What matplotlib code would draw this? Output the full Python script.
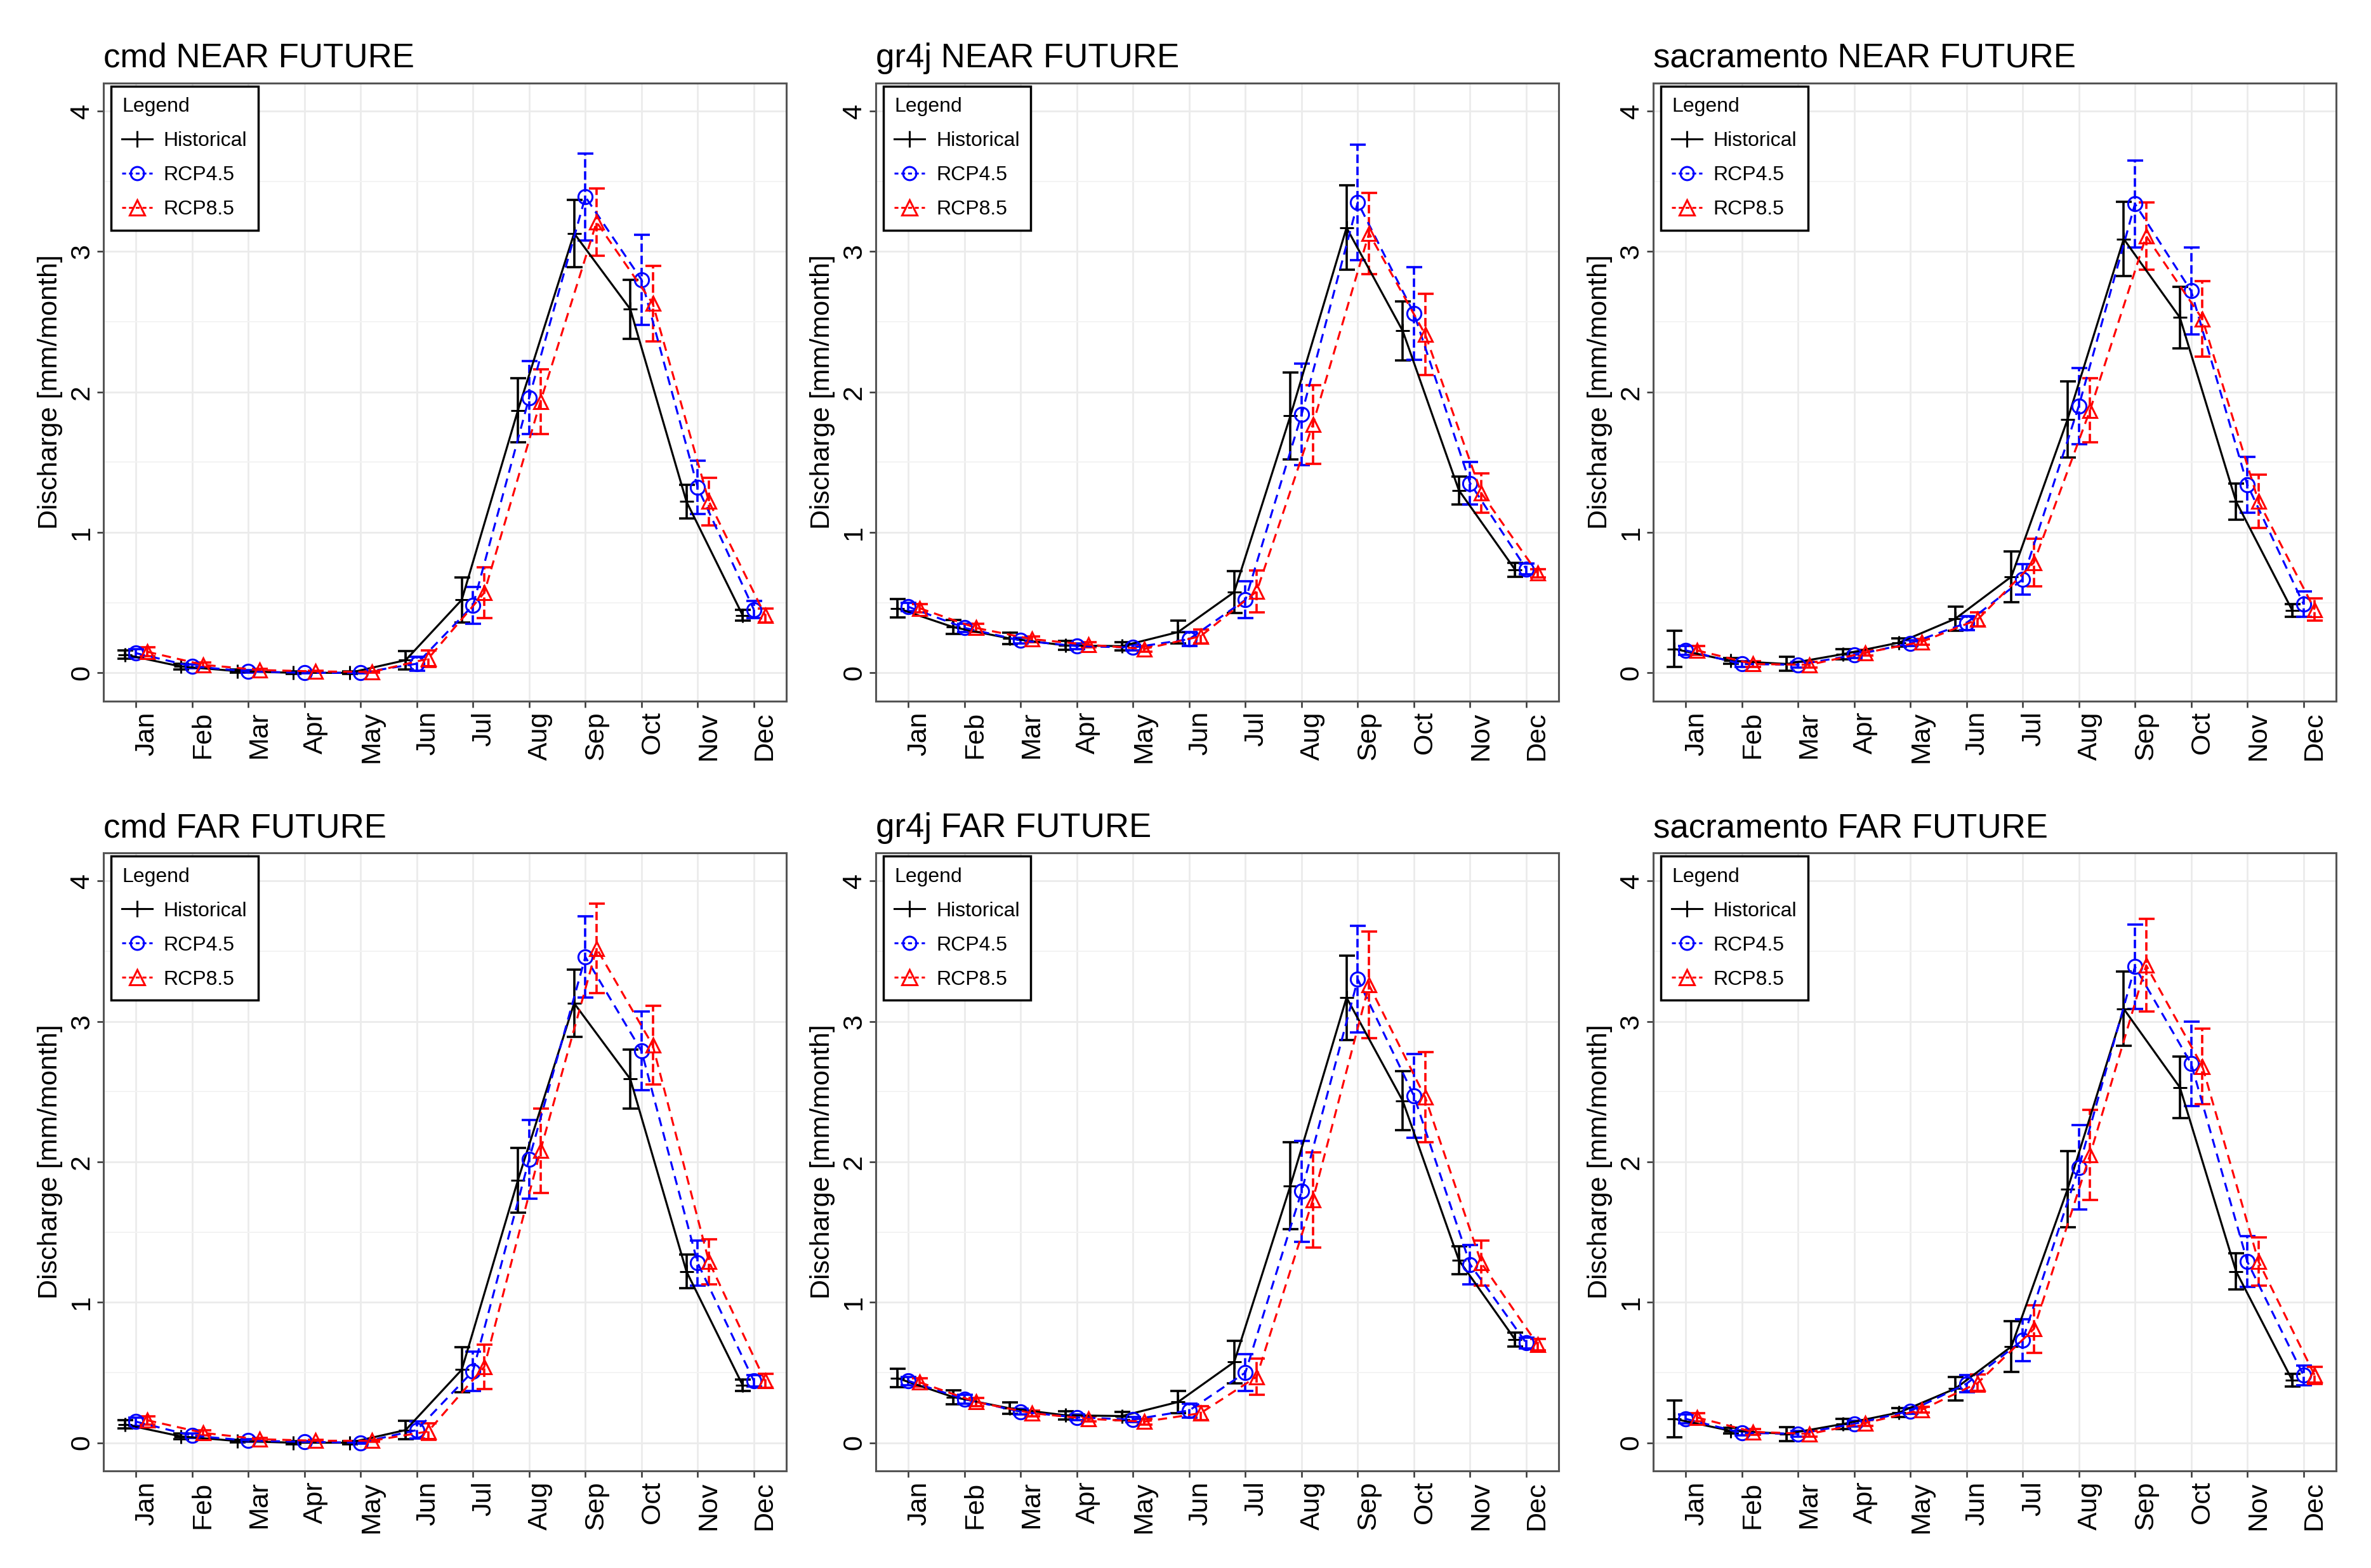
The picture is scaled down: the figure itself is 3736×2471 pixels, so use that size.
import numpy as np
import matplotlib
matplotlib.use("Agg")
import matplotlib.pyplot as plt
import matplotlib.transforms as mtransforms
from matplotlib.lines import Line2D

plt.rcParams["font.family"] = ["Liberation Sans", "DejaVu Sans"]

# 1. Data (monthly discharge, mm/month, mean and half-range of error bar)

months = ["Jan", "Feb", "Mar", "Apr", "May", "Jun",
          "Jul", "Aug", "Sep", "Oct", "Nov", "Dec"]
models = ["cmd", "gr4j", "sacramento"]
periods = ["NEAR FUTURE", "FAR FUTURE"]

cmd_hist = [0.13, 0.045, 0.012, 0.0, 0.0, 0.09, 0.52, 1.87, 3.13, 2.59, 1.22, 0.41]
cmd_hist_err = [0.03, 0.02, 0.01, 0.01, 0.01, 0.065, 0.16, 0.23, 0.24, 0.21, 0.12, 0.04]
cmd_near_45 = [0.14, 0.046, 0.01, 0.0, 0.0, 0.065, 0.48, 1.96, 3.39, 2.80, 1.32, 0.45]
cmd_near_45_err = [0.03, 0.015, 0.01, 0.005, 0.005, 0.05, 0.13, 0.26, 0.31, 0.32, 0.19, 0.06]
cmd_near_85 = [0.15, 0.057, 0.02, 0.01, 0.006, 0.10, 0.57, 1.93, 3.21, 2.63, 1.22, 0.41]
cmd_near_85_err = [0.03, 0.015, 0.01, 0.005, 0.005, 0.06, 0.18, 0.23, 0.24, 0.27, 0.17, 0.05]
cmd_far_45 = [0.15, 0.05, 0.015, 0.006, 0.0, 0.09, 0.51, 2.02, 3.46, 2.79, 1.28, 0.44]
cmd_far_45_err = [0.03, 0.015, 0.01, 0.005, 0.005, 0.06, 0.14, 0.28, 0.29, 0.28, 0.16, 0.04]
cmd_far_85 = [0.16, 0.07, 0.025, 0.014, 0.014, 0.08, 0.54, 2.08, 3.52, 2.83, 1.29, 0.44]
cmd_far_85_err = [0.03, 0.02, 0.01, 0.005, 0.005, 0.06, 0.16, 0.30, 0.32, 0.28, 0.16, 0.05]

gr4j_hist = [0.46, 0.325, 0.245, 0.195, 0.19, 0.29, 0.575, 1.83, 3.17, 2.435, 1.30, 0.735]
gr4j_hist_err = [0.065, 0.05, 0.04, 0.03, 0.03, 0.08, 0.15, 0.31, 0.30, 0.21, 0.10, 0.05]
gr4j_near_45 = [0.47, 0.32, 0.23, 0.19, 0.18, 0.24, 0.52, 1.84, 3.35, 2.56, 1.35, 0.74]
gr4j_near_45_err = [0.03, 0.03, 0.02, 0.02, 0.02, 0.05, 0.13, 0.36, 0.41, 0.33, 0.15, 0.04]
gr4j_near_85 = [0.46, 0.32, 0.24, 0.20, 0.17, 0.26, 0.58, 1.77, 3.13, 2.41, 1.28, 0.71]
gr4j_near_85_err = [0.03, 0.03, 0.02, 0.02, 0.02, 0.05, 0.15, 0.28, 0.29, 0.29, 0.14, 0.03]
gr4j_far_45 = [0.44, 0.31, 0.22, 0.18, 0.165, 0.23, 0.50, 1.79, 3.30, 2.47, 1.27, 0.71]
gr4j_far_45_err = [0.03, 0.03, 0.02, 0.02, 0.02, 0.05, 0.13, 0.36, 0.38, 0.30, 0.14, 0.04]
gr4j_far_85 = [0.43, 0.29, 0.21, 0.17, 0.15, 0.21, 0.47, 1.73, 3.26, 2.46, 1.28, 0.70]
gr4j_far_85_err = [0.03, 0.03, 0.02, 0.02, 0.02, 0.05, 0.13, 0.34, 0.38, 0.32, 0.16, 0.04]

sac_hist = [0.17, 0.085, 0.063, 0.133, 0.215, 0.385, 0.685, 1.805, 3.09, 2.53, 1.22, 0.445]
sac_hist_err = [0.13, 0.02, 0.05, 0.035, 0.03, 0.085, 0.18, 0.27, 0.265, 0.22, 0.13, 0.045]
sac_near_45 = [0.16, 0.063, 0.057, 0.126, 0.21, 0.355, 0.665, 1.90, 3.34, 2.72, 1.34, 0.49]
sac_near_45_err = [0.03, 0.02, 0.02, 0.02, 0.02, 0.05, 0.11, 0.27, 0.31, 0.31, 0.20, 0.09]
sac_near_85 = [0.16, 0.063, 0.057, 0.143, 0.22, 0.38, 0.785, 1.87, 3.11, 2.52, 1.22, 0.45]
sac_near_85_err = [0.03, 0.02, 0.02, 0.02, 0.02, 0.05, 0.17, 0.23, 0.24, 0.27, 0.19, 0.08]
sac_far_45 = [0.17, 0.07, 0.063, 0.134, 0.226, 0.42, 0.73, 1.96, 3.39, 2.70, 1.29, 0.48]
sac_far_45_err = [0.03, 0.02, 0.02, 0.02, 0.02, 0.06, 0.15, 0.30, 0.30, 0.30, 0.18, 0.07]
sac_far_85 = [0.18, 0.077, 0.063, 0.14, 0.234, 0.425, 0.81, 2.05, 3.40, 2.68, 1.29, 0.48]
sac_far_85_err = [0.03, 0.02, 0.02, 0.02, 0.02, 0.06, 0.17, 0.32, 0.33, 0.27, 0.17, 0.06]

hist = {"cmd": (cmd_hist, cmd_hist_err),
        "gr4j": (gr4j_hist, gr4j_hist_err),
        "sacramento": (sac_hist, sac_hist_err)}
future = {
    ("cmd", "NEAR FUTURE"): (cmd_near_45, cmd_near_45_err, cmd_near_85, cmd_near_85_err),
    ("cmd", "FAR FUTURE"): (cmd_far_45, cmd_far_45_err, cmd_far_85, cmd_far_85_err),
    ("gr4j", "NEAR FUTURE"): (gr4j_near_45, gr4j_near_45_err, gr4j_near_85, gr4j_near_85_err),
    ("gr4j", "FAR FUTURE"): (gr4j_far_45, gr4j_far_45_err, gr4j_far_85, gr4j_far_85_err),
    ("sacramento", "NEAR FUTURE"): (sac_near_45, sac_near_45_err, sac_near_85, sac_near_85_err),
    ("sacramento", "FAR FUTURE"): (sac_far_45, sac_far_45_err, sac_far_85, sac_far_85_err),
}

# 2. Figure layout

fig = plt.figure(figsize=(37.37, 24.71), dpi=100)
lefts = [0.0436, 0.3693, 0.6970]
bottoms = [0.553, 0.062]
width, height = 0.288, 0.394

dash = (0, (4.5, 3))
x = np.arange(1, 13)
label_shift = mtransforms.ScaledTranslation(0.17, 0, fig.dpi_scale_trans)


def draw_series(ax, xs, y, err, color, dashed, marker):
    eb = ax.errorbar(xs, y, yerr=err, fmt="none", ecolor=color,
                     elinewidth=2.6, capsize=9, capthick=2.6, zorder=3)
    if dashed:
        eb[2][0].set_linestyle("--")
    ax.plot(xs, y, color=color, lw=2.3, linestyle=dash if dashed else "-",
            marker=marker, markersize=16, markerfacecolor="none",
            markeredgewidth=2.2, zorder=4)


for r, period in enumerate(periods):
    for c, model in enumerate(models):
        ax = fig.add_axes([lefts[c], bottoms[r], width, height])
        h, h_err = hist[model]
        r45, r45_err, r85, r85_err = future[(model, period)]

        draw_series(ax, x - 0.2, h, h_err, "black", False, "+")
        draw_series(ax, x, r45, r45_err, "blue", True, "o")
        draw_series(ax, x + 0.2, r85, r85_err, "red", True, "^")

        ax.set_xlim(0.42, 12.58)
        ax.set_ylim(-0.2, 4.2)
        ax.set_xticks(x)
        ax.set_xticklabels(months, rotation=90, va="top", ha="center")
        ax.set_yticks([0, 1, 2, 3, 4])
        ax.set_yticks(np.arange(0.5, 4, 1), minor=True)
        ax.tick_params(which="major", length=7, width=1.8, color="#333333",
                       labelsize=31)
        ax.tick_params(axis="x", pad=5)
        ax.tick_params(axis="y", labelrotation=90, pad=3)
        ax.tick_params(which="minor", length=0)
        for lab in ax.get_yticklabels():
            lab.set_verticalalignment("center")
        for lab in ax.get_xticklabels():
            lab.set_transform(lab.get_transform() + label_shift)

        ax.grid(which="major", color="#EBEBEB", lw=2)
        ax.grid(which="minor", axis="y", color="#F3F3F3", lw=1.4)
        ax.set_axisbelow(True)
        for sp in ax.spines.values():
            sp.set_color("#555555")
            sp.set_linewidth(2.2)

        ax.set_ylabel("Discharge [mm/month]", fontsize=31, labelpad=7)
        ax.set_title(f"{model} {period}", loc="left", fontsize=38, pad=18)

        handles = [
            Line2D([], [], color="black", lw=2.2, marker="+", markersize=19,
                   markeredgewidth=2.2),
            Line2D([], [], color="blue", lw=2.2, linestyle=(0, (2, 1.5)), marker="o",
                   markersize=15, markerfacecolor="none", markeredgewidth=2.2),
            Line2D([], [], color="red", lw=2.2, linestyle=(0, (2, 1.5)), marker="^",
                   markersize=17, markerfacecolor="none", markeredgewidth=2.2),
        ]
        leg = ax.legend(handles, ["Historical", "RCP4.5", "RCP8.5"],
                        title="Legend", loc="upper left",
                        bbox_to_anchor=(0.011, 0.995), borderaxespad=0,
                        fontsize=23, title_fontsize=23, alignment="left",
                        handlelength=1.5, handletextpad=0.55, labelspacing=0.75,
                        borderpad=0.55, fancybox=False, framealpha=1,
                        edgecolor="black")
        leg.get_frame().set_linewidth(2.5)

fig.savefig("out.png", dpi=100)
